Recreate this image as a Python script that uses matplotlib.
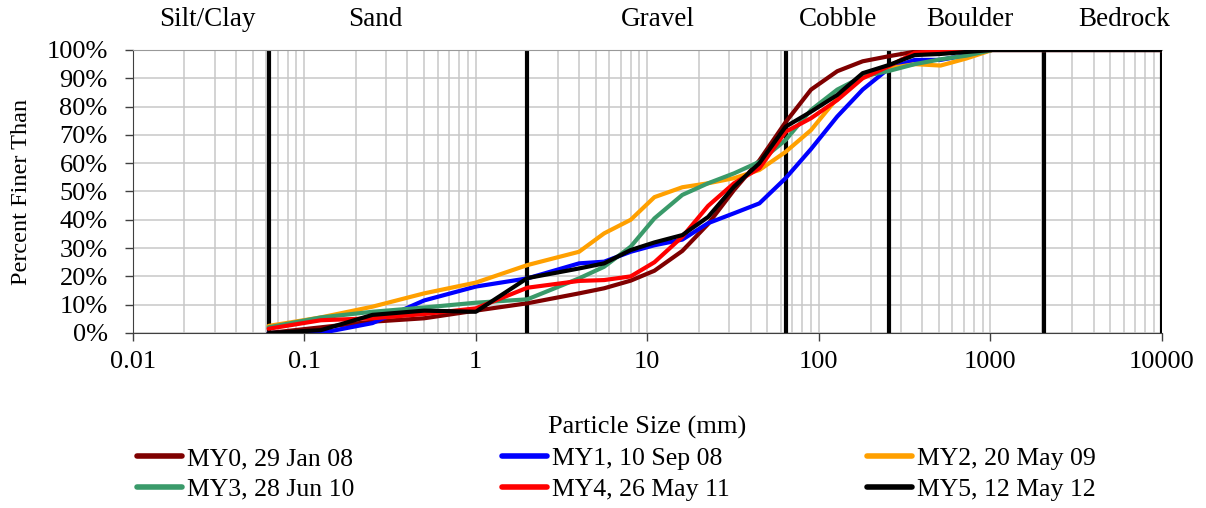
import numpy as np
import matplotlib
matplotlib.use("Agg")
from matplotlib import pyplot as plt
from matplotlib.ticker import FixedLocator, NullFormatter, FuncFormatter

plt.rcParams['font.family'] = ['Liberation Serif', 'DejaVu Serif']

# particle sizes (mm) and percent finer for each survey
sizes = [0.062, 0.125, 0.25, 0.5, 1, 2, 4, 5.6, 8, 11, 16, 22.6, 32, 45, 64,
         90, 128, 180, 256, 362, 512, 724, 1024, 2048, 4096, 10000]

my0 = [0, 2, 4, 5.2, 7.9, 10.5, 14, 15.8, 18.5, 22, 29, 38.5, 50.5, 61, 74.5,
       86, 92.5, 96, 97.8, 99.4, 100, 100, 100, 100, 100, 100]
my1 = [0, 0, 3.5, 11.5, 16.4, 19.3, 24.6, 25.2, 28.7, 31, 33, 38.8, 42.3, 45.8, 54.7,
       65, 76.5, 86, 93.5, 96.5, 96.5, 98.2, 100, 100, 100, 100]
my2 = [2.5, 5.5, 9.3, 14, 17.8, 24, 28.7, 35.2, 40, 48, 51.5, 52.9, 54.7, 57.6, 64,
       71.7, 83, 90.3, 93.5, 95, 94.5, 97, 100, 100, 100, 100]
my3 = [2, 5.5, 7.5, 9, 10.7, 11.9, 19.3, 23.4, 30.5, 40.5, 48.8, 52.9, 56.4, 60.5, 68.2,
       78.8, 86, 90.6, 92.6, 95, 96.7, 98, 100, 100, 100, 100]
my4 = [1.5, 4.5, 5.2, 6.7, 8.7, 16, 18.4, 18.7, 20, 25, 34, 44.9, 52.9, 58.2, 71.1,
       75.9, 82.3, 90, 94.3, 99, 99.6, 100, 100, 100, 100, 100]
my5 = [0, 1, 6.4, 7.9, 7.5, 19.4, 22.8, 24.6, 29.3, 32, 34.6, 41, 51.7, 60, 72.9,
       78.2, 84.1, 91.8, 94.7, 98.2, 98.6, 99.3, 100, 100, 100, 100]

series = [("MY0, 29 Jan 08", my0, "#7f0000"),
          ("MY1, 10 Sep 08", my1, "#0000ff"),
          ("MY2, 20 May 09", my2, "#ffa000"),
          ("MY3, 28 Jun 10", my3, "#3a9a6a"),
          ("MY4, 26 May 11", my4, "#ff0000"),
          ("MY5, 12 May 12", my5, "#000000")]

# size class boundaries and labels
bounds = [0.062, 2, 64, 256, 2048, 10000]
classes = ["Silt/Clay", "Sand", "Gravel", "Cobble", "Boulder", "Bedrock"]
class_x = [0.0274, 0.261, 11.5, 129, 759, 6000]

xticks = [0.01, 0.1, 1, 10, 100, 1000, 10000]
minor_x = [m * 10.0 ** e for e in range(-2, 4) for m in range(2, 10)]

fig = plt.figure(figsize=(12.06, 5.08), dpi=100)
ax = fig.add_axes([0.110, 0.3445, 0.8535, 0.5571])

ax.set_xscale("log")
ax.set_xlim(0.01, 10000)
ax.set_ylim(0, 100)

ax.xaxis.set_major_locator(FixedLocator(xticks))
ax.xaxis.set_minor_locator(FixedLocator(minor_x))
ax.xaxis.set_minor_formatter(NullFormatter())
ax.xaxis.set_major_formatter(FuncFormatter(lambda v, p: ("%g" % v)))
ax.yaxis.set_major_locator(FixedLocator(np.arange(0, 101, 10)))
ax.yaxis.set_major_formatter(FuncFormatter(lambda v, p: "%d%%" % v))

ax.grid(True, which="both", axis="x", color="#c8c8c8", lw=1.1)
ax.grid(True, which="major", axis="y", color="#c8c8c8", lw=1.1)
ax.set_axisbelow(True)

ax.tick_params(axis="both", which="major", labelsize=19, length=6, width=1, color="#404040")
ax.tick_params(axis="x", which="minor", length=0)
ax.tick_params(axis="x", pad=7)
ax.tick_params(axis="y", pad=12)

ax.spines["right"].set_visible(False)
ax.spines["top"].set_color("#999999")
ax.spines["left"].set_color("#404040")
ax.spines["bottom"].set_color("#404040")

for b in bounds:
    ax.axvline(b, color="black", lw=3, zorder=2)

for name, vals, c in series:
    ax.plot(sizes, vals, color=c, lw=3, label=name, zorder=3,
            solid_joinstyle="round", solid_capstyle="round")

for lab, xx in zip(classes, class_x):
    ax.text(xx, 1.106, lab, transform=ax.get_xaxis_transform(), ha="center",
            va="center", fontsize=19.5)

ax.set_xlabel("Particle Size (mm)", fontsize=19, labelpad=31)
ax.set_ylabel("Percent Finer Than", fontsize=17.5, labelpad=6)
ax.yaxis.set_label_coords(-0.098, 0.5)

# legend: three columns placed by hand
h, l = ax.get_legend_handles_labels()
col_x = [0.1053, 0.408, 0.7106]
for k, idx in enumerate([[0, 3], [1, 4], [2, 5]]):
    leg = fig.legend([h[i] for i in idx], [l[i] for i in idx], ncol=1,
                     loc="upper left", bbox_to_anchor=(col_x[k], 0.140),
                     frameon=False, fontsize=18.5, handlelength=1.75,
                     handletextpad=0.2, labelspacing=0.3, borderaxespad=0)
    for ln in leg.get_lines():
        ln.set_linewidth(4)

fig.savefig("out.png", dpi=100)
